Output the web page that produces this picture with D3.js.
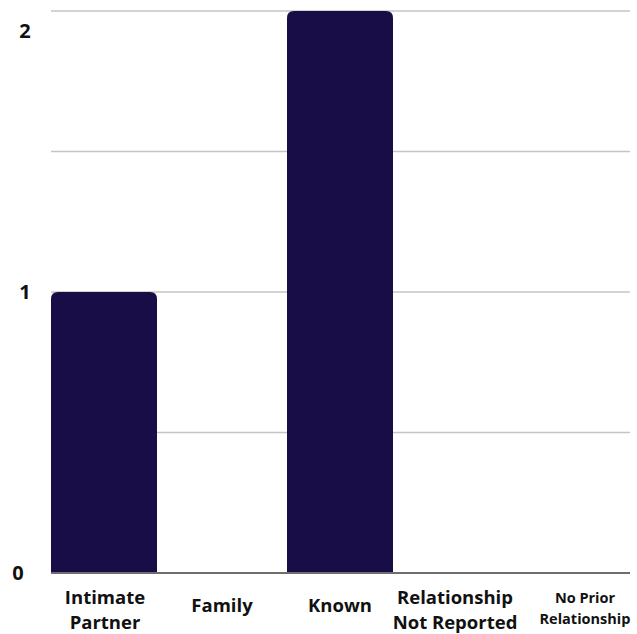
<!DOCTYPE html>
<html><head><meta charset="utf-8">
<script src="https://cdn.jsdelivr.net/npm/d3@7"></script>
<style>body{margin:0;background:#fff}svg{display:block}text{font-family:"Open Sans",Lato,sans-serif;font-weight:700;fill:#111}</style>
</head><body><svg id="c" width="637" height="634"></svg>
<script>
const categories = ["Intimate Partner","Family","Known","Relationship Not Reported","No Prior Relationship"];
const categoryLines = [["Intimate","Partner"],["Family"],["Known"],["Relationship","Not Reported"],["No Prior","Relationship"]];
const values = [1,0,2,0,0];
const yTickLabels = [0,1,2];
const gridValues = [0.5,1,1.5,2];

const svg = d3.select("#c");
const x = d3.scaleBand().domain(categories).range([45,635]).paddingInner(12/118).paddingOuter(6/118);
const y = d3.scaleLinear().domain([0,2]).range([573,11]);
const gx0 = 51, gx1 = 630;

svg.selectAll("line.grid").data(gridValues).join("line")
  .attr("x1",gx0).attr("x2",gx1).attr("y1",d=>y(d)).attr("y2",d=>y(d))
  .attr("stroke","#c4c4c4").attr("stroke-width",1.5);

const r = 7;
svg.selectAll("path.bar").data(categories.map((c,i)=>({c,v:values[i]})).filter(d=>d.v>0)).join("path")
  .attr("fill","#180d46")
  .attr("d",d=>{
    const x0=x(d.c), w=x.bandwidth(), y0=y(d.v), y1=y(0);
    return `M${x0},${y1}V${y0+r}Q${x0},${y0} ${x0+r},${y0}H${x0+w-r}Q${x0+w},${y0} ${x0+w},${y0+r}V${y1}Z`;
  });

svg.append("line").attr("x1",gx0).attr("x2",gx1).attr("y1",y(0)).attr("y2",y(0))
  .attr("stroke","#6e6e6e").attr("stroke-width",2);

svg.selectAll("text.yl").data(yTickLabels).join("text")
  .attr("x",d=>d===0?18:25).attr("y",d=>Math.max(y(d),31)).attr("dy","0.36em")
  .attr("text-anchor","middle").attr("font-size",20).text(d=>d);

categories.forEach((c,i)=>{
  const lines = categoryLines[i];
  const small = c==="No Prior Relationship";
  const fs = small?14.5:18.5;
  const lh = small?21:25;
  const base = lines.length===1 ? 612 : (small?603:604);
  const dx = i===0?1:(i===3?-3:(small?9:0));
  const t = svg.append("text").attr("text-anchor","middle").attr("font-size",fs).attr("font-weight",small?700:600);
  lines.forEach((l,j)=>t.append("tspan").attr("x",x(c)+x.bandwidth()/2+dx).attr("y",base+j*lh).text(l));
});
</script></body></html>
